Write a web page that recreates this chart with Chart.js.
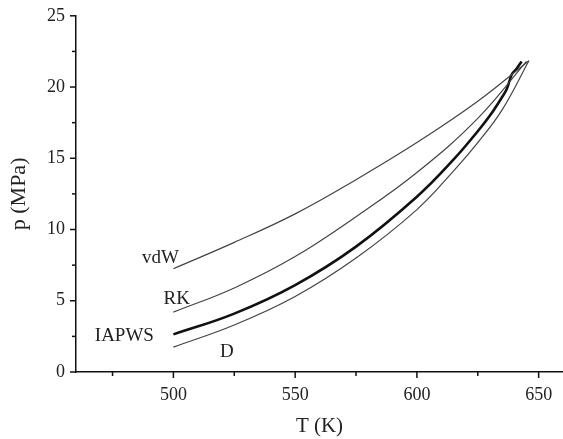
<!DOCTYPE html>
<html>
<head>
<meta charset="UTF-8">
<title>p(T)</title>
<script src="https://cdn.jsdelivr.net/npm/chart.js"></script>
<style>
    body { margin: 0; background: #fff; }
    #wrap { width: 563px; height: 439px; }
</style>
</head>
<body>
<div id="wrap"><canvas id="grafica" width="563" height="439"></canvas></div>
<script>
// curvas de saturación p(T)
const tVdw = [500, 525, 550, 575, 600, 625, 646];
const pVdw = [7.25, 9.1, 11.1, 13.5, 16.1, 19.0, 21.85];

const tRk = [500, 525, 550, 575, 600, 625, 645];
const pRk = [4.2, 5.9, 8.1, 10.9, 14.0, 17.8, 21.8];

const tIapws = [500, 525, 550, 575, 600, 615, 625, 630, 635, 637, 639, 641, 643];
const pIapws = [2.64, 4.1, 6.1, 8.8, 12.3, 14.9, 16.9, 18.0, 19.3, 19.9, 20.9, 21.3, 21.8];

const tD = [500, 525, 550, 575, 600, 615, 625, 635, 646];
const pD = [1.75, 3.3, 5.3, 8.0, 11.4, 14.1, 16.1, 18.4, 21.85];

const xTicks = [475, 500, 525, 550, 575, 600, 625, 650];
const yTicks = [0, 2.5, 5, 7.5, 10, 12.5, 15, 17.5, 20, 22.5, 25];

// etiquetas de cada curva (T, p, alineación)
const etiquetas = [
    { texto: 'vdW', t: 502.3, p: 8.0, align: 'right' },
    { texto: 'RK', t: 506.8, p: 5.1, align: 'right' },
    { texto: 'IAPWS', t: 492, p: 2.5, align: 'right' },
    { texto: 'D', t: 522, p: 1.4, align: 'center' }
];

function puntos(ts, ps) {
    return ts.map((t, i) => ({ x: t, y: ps[i] }));
}

const fuente = '"Liberation Serif", "DejaVu Serif", serif';

function serie(ts, ps, ancho, color) {
    return {
        data: puntos(ts, ps),
        borderColor: color,
        borderWidth: ancho,
        pointRadius: 0,
        fill: false,
        tension: 0.4
    };
}

// marcas de los ejes hacia fuera: largas en valores principales, cortas en los intermedios
const marcasPlugin = {
    id: 'marcas',
    afterDraw(chart) {
        const c = chart.ctx;
        const xs = chart.scales.x, ys = chart.scales.y;
        c.save();
        c.strokeStyle = '#111';
        c.lineWidth = 1.5;
        xTicks.forEach(v => {
            const px = xs.getPixelForValue(v);
            const largo = v % 50 === 0 ? 6 : 4;
            c.beginPath();
            c.moveTo(px, ys.bottom);
            c.lineTo(px, ys.bottom + largo);
            c.stroke();
        });
        yTicks.forEach(v => {
            const py = ys.getPixelForValue(v);
            const largo = v % 5 === 0 ? 6 : 4;
            c.beginPath();
            c.moveTo(xs.left, py);
            c.lineTo(xs.left - largo, py);
            c.stroke();
        });
        c.font = '19px ' + fuente;
        c.fillStyle = '#222';
        c.textBaseline = 'middle';
        etiquetas.forEach(e => {
            c.textAlign = e.align;
            c.fillText(e.texto, xs.getPixelForValue(e.t), ys.getPixelForValue(e.p));
        });
        c.restore();
    }
};

const ctx = document.getElementById('grafica').getContext('2d');
const grafica = new Chart(ctx, {
    type: 'line',
    data: {
        datasets: [
            serie(tVdw, pVdw, 1.2, '#444'),
            serie(tRk, pRk, 1.2, '#444'),
            serie(tIapws, pIapws, 2.6, '#111'),
            serie(tD, pD, 1.2, '#444')
        ]
    },
    options: {
        responsive: false,
        animation: false,
        layout: { padding: { top: 15, right: 0, left: 0, bottom: 0 } },
        plugins: { legend: { display: false }, tooltip: { enabled: false } },
        scales: {
            x: {
                type: 'linear',
                min: 460,
                max: 660,
                afterBuildTicks: s => { s.ticks = xTicks.map(v => ({ value: v })); },
                afterFit: s => { s.height = 67; },
                border: { display: true, color: '#111', width: 1.5 },
                grid: { drawOnChartArea: false, color: 'rgba(0,0,0,0)', tickLength: 6 },
                ticks: {
                    padding: 6,
                    color: '#222',
                    font: { family: fuente, size: 18 },
                    maxRotation: 0,
                    callback: v => (v % 50 === 0 ? v : '')
                },
                title: {
                    display: true,
                    text: 'T (K)',
                    color: '#222',
                    font: { family: fuente, size: 21 },
                    padding: { top: 4, bottom: 0 }
                }
            },
            y: {
                type: 'linear',
                min: 0,
                max: 25,
                afterBuildTicks: s => { s.ticks = yTicks.map(v => ({ value: v })); },
                afterFit: s => { s.width = 76; },
                border: { display: true, color: '#111', width: 1.5 },
                grid: { drawOnChartArea: false, color: 'rgba(0,0,0,0)', tickLength: 6 },
                ticks: {
                    padding: 5,
                    color: '#222',
                    font: { family: fuente, size: 18 },
                    callback: v => (v % 5 === 0 ? v : '')
                },
                title: {
                    display: true,
                    text: 'p (MPa)',
                    color: '#222',
                    font: { family: fuente, size: 22 },
                    padding: { top: 6, bottom: 0 }
                }
            }
        }
    },
    plugins: [marcasPlugin]
});
</script>
</body>
</html>
